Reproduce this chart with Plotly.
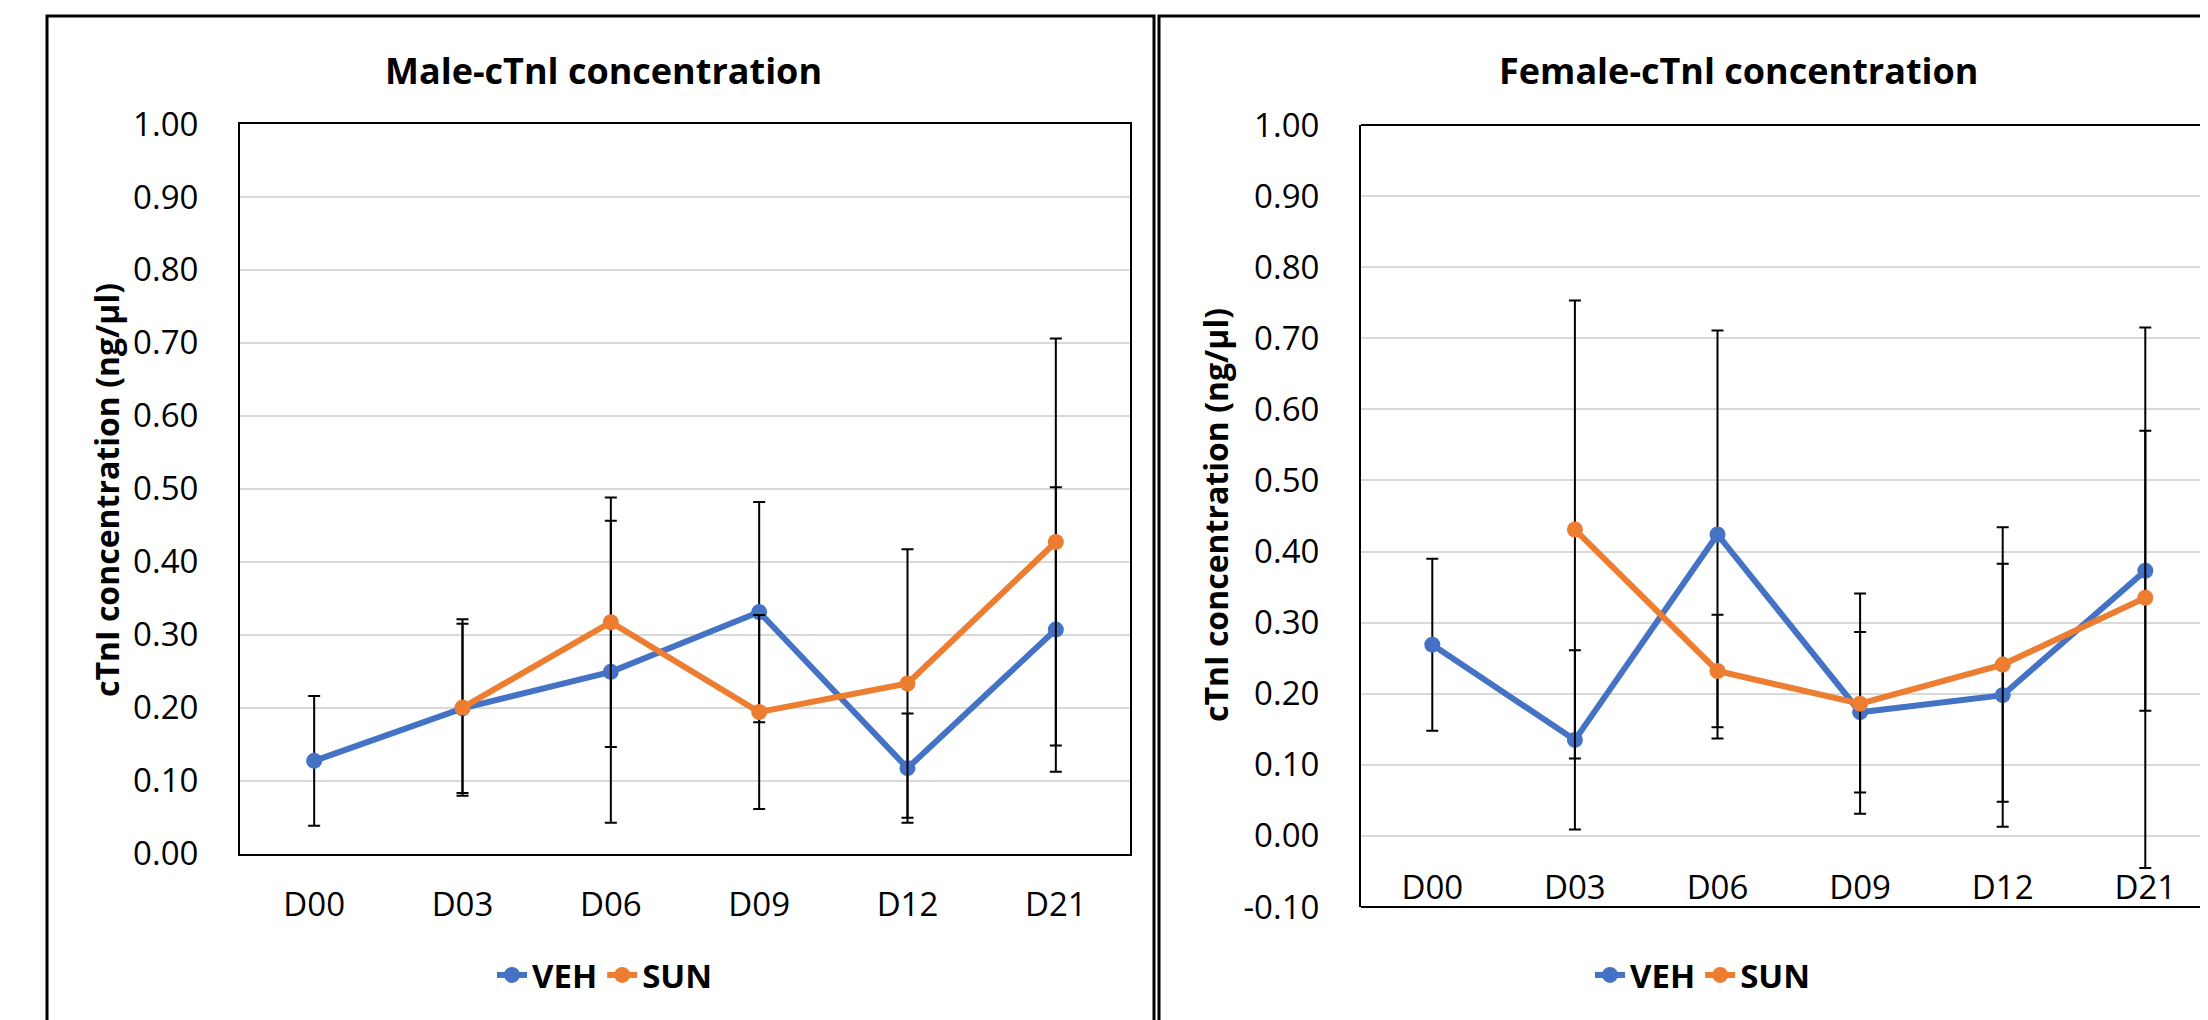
import plotly.graph_objects as go

# ---------------- data ----------------
categories = ["D00", "D03", "D06", "D09", "D12", "D21"]

male_veh = [0.127, 0.199, 0.249, 0.331, 0.117, 0.307]
male_veh_err = [0.089, 0.116, 0.207, 0.151, 0.075, 0.195]
male_sun = [None, 0.200, 0.317, 0.194, 0.233, 0.427]
male_sun_err = [None, 0.121, 0.171, 0.133, 0.184, 0.279]

female_veh = [0.269, 0.135, 0.424, 0.174, 0.198, 0.373]
female_veh_err = [0.121, 0.126, 0.287, 0.113, 0.185, 0.197]
female_sun = [None, 0.431, 0.232, 0.186, 0.241, 0.335]
female_sun_err = [None, 0.322, 0.079, 0.155, 0.193, 0.380]

male_yticks = [0.0, 0.1, 0.2, 0.3, 0.4, 0.5, 0.6, 0.7, 0.8, 0.9, 1.0]
female_yticks = [-0.1, 0.0, 0.1, 0.2, 0.3, 0.4, 0.5, 0.6, 0.7, 0.8, 0.9, 1.0]
male_ytick_labels = ["0.00", "0.10", "0.20", "0.30", "0.40", "0.50",
                     "0.60", "0.70", "0.80", "0.90", "1.00"]
female_ytick_labels = ["-0.10", "0.00", "0.10", "0.20", "0.30", "0.40", "0.50",
                       "0.60", "0.70", "0.80", "0.90", "1.00"]

series_names = ["VEH", "SUN"]
series_colors = ["#4472C4", "#ED7D31"]
titles = ["Male-cTnl concentration", "Female-cTnl concentration"]
y_title = "cTnI concentration (ng/µl)"

# ---------------- layout helpers (screen px -> paper) ----------------
W, H = 2208, 1020
OFF = 8  # page body margin
def px(x):
    return (x - OFF) / W
def py(y):
    return 1 - (y - OFF) / H

FONT = "Open Sans"
GRID = "#D9D9D9"

fig = go.Figure()

def add_series(ys, errs, name, color, xa, ya, legend):
    fig.add_trace(go.Scatter(
        x=categories, y=ys, name=name, mode="lines+markers",
        line=dict(color=color, width=6),
        marker=dict(color=color, size=16),
        error_y=dict(type="data", array=errs, visible=True,
                     color="black", thickness=2, width=6),
        xaxis=xa, yaxis=ya, legend=legend, connectgaps=False,
    ))

add_series(male_veh, male_veh_err, series_names[0], series_colors[0], "x", "y", "legend")
add_series(male_sun, male_sun_err, series_names[1], series_colors[1], "x", "y", "legend")
add_series(female_veh, female_veh_err, series_names[0], series_colors[0], "x2", "y2", "legend2")
add_series(female_sun, female_sun_err, series_names[1], series_colors[1], "x2", "y2", "legend2")

tickfont = dict(family=FONT, size=33, color="#000000")

# left subplot geometry
L_dom_x = [px(240), px(1130)]
L_dom_y = [py(853.5), py(124)]
# right subplot geometry
R_left, R_step = 1361, 142.6
R_dom_x = [px(R_left), 1.0]
R_dom_y = [py(907), py(125)]
R_range_y = [-0.1, 1.0]
R_range_x = [-0.5, -0.5 + (W + OFF - R_left) / R_step]
zero_pos = R_dom_y[0] + (0 - R_range_y[0]) / (R_range_y[1] - R_range_y[0]) * (R_dom_y[1] - R_dom_y[0])

fig.update_layout(
    width=W, height=H,
    margin=dict(l=0, r=0, t=0, b=0, autoexpand=False),
    paper_bgcolor="white", plot_bgcolor="white",
    showlegend=True,
    xaxis=dict(domain=L_dom_x, anchor="y", type="category", range=[-0.5, 5.5],
               showline=True, mirror=True, linecolor="black", linewidth=2,
               showgrid=False, ticks="outside", ticklen=21, tickcolor="rgba(0,0,0,0)",
               tickfont=tickfont, zeroline=False, automargin=False),
    yaxis=dict(domain=L_dom_y, anchor="x", range=[0, 1.0],
               tickvals=male_yticks, ticktext=male_ytick_labels,
               showline=True, mirror=True, linecolor="black",
               linewidth=2, showgrid=True, gridcolor=GRID, gridwidth=2,
               ticks="outside", ticklen=33, tickcolor="rgba(0,0,0,0)",
               tickfont=tickfont, zeroline=False, automargin=False),
    xaxis2=dict(domain=R_dom_x, anchor="free", position=zero_pos, type="category",
                range=R_range_x, showline=False, showgrid=False,
                ticks="outside", ticklen=22, tickcolor="rgba(0,0,0,0)",
                tickfont=tickfont, zeroline=False, automargin=False),
    yaxis2=dict(domain=R_dom_y, anchor="x2", range=R_range_y,
                tickvals=female_yticks, ticktext=female_ytick_labels,
                showline=True, mirror=False, linecolor="black",
                linewidth=2, showgrid=True, gridcolor=GRID, gridwidth=2,
                ticks="outside", ticklen=33, tickcolor="rgba(0,0,0,0)",
                tickfont=tickfont, zeroline=False, automargin=False),
    legend=dict(orientation="h", x=px(605), y=py(975), xanchor="center", yanchor="middle",
                font=dict(family=FONT, size=33, color="black", weight="bold"),
                bgcolor="rgba(0,0,0,0)"),
    legend2=dict(orientation="h", x=px(1703), y=py(975), xanchor="center", yanchor="middle",
                 font=dict(family=FONT, size=33, color="black", weight="bold"),
                 bgcolor="rgba(0,0,0,0)"),
)

# titles
for t, cx in zip(titles, [603, 1739]):
    fig.add_annotation(text=t, x=px(cx), y=py(70), xref="paper", yref="paper",
                       showarrow=False, xanchor="center", yanchor="middle",
                       font=dict(family=FONT, size=36, color="black", weight="bold"))

# y-axis titles
for cx, cy in [(106, 490), (1215, 515)]:
    fig.add_annotation(text=y_title, x=px(cx), y=py(cy), xref="paper", yref="paper",
                       showarrow=False, xanchor="center", yanchor="middle", textangle=-90,
                       font=dict(family=FONT, size=32, color="black", weight="bold"))

# right plot frame: top and bottom lines
for yv in [0, 1]:
    fig.add_shape(type="line", xref="x2 domain", yref="y2 domain",
                  x0=0, x1=1, y0=yv, y1=yv, line=dict(color="black", width=2))

# outer chart frames
fig.add_shape(type="rect", xref="paper", yref="paper",
              x0=px(47), x1=px(1154), y0=-0.05, y1=py(16),
              line=dict(color="black", width=3), layer="below")
fig.add_shape(type="rect", xref="paper", yref="paper",
              x0=px(1159), x1=1.05, y0=-0.05, y1=py(16),
              line=dict(color="black", width=3), layer="below")

fig.write_html("out.html")
